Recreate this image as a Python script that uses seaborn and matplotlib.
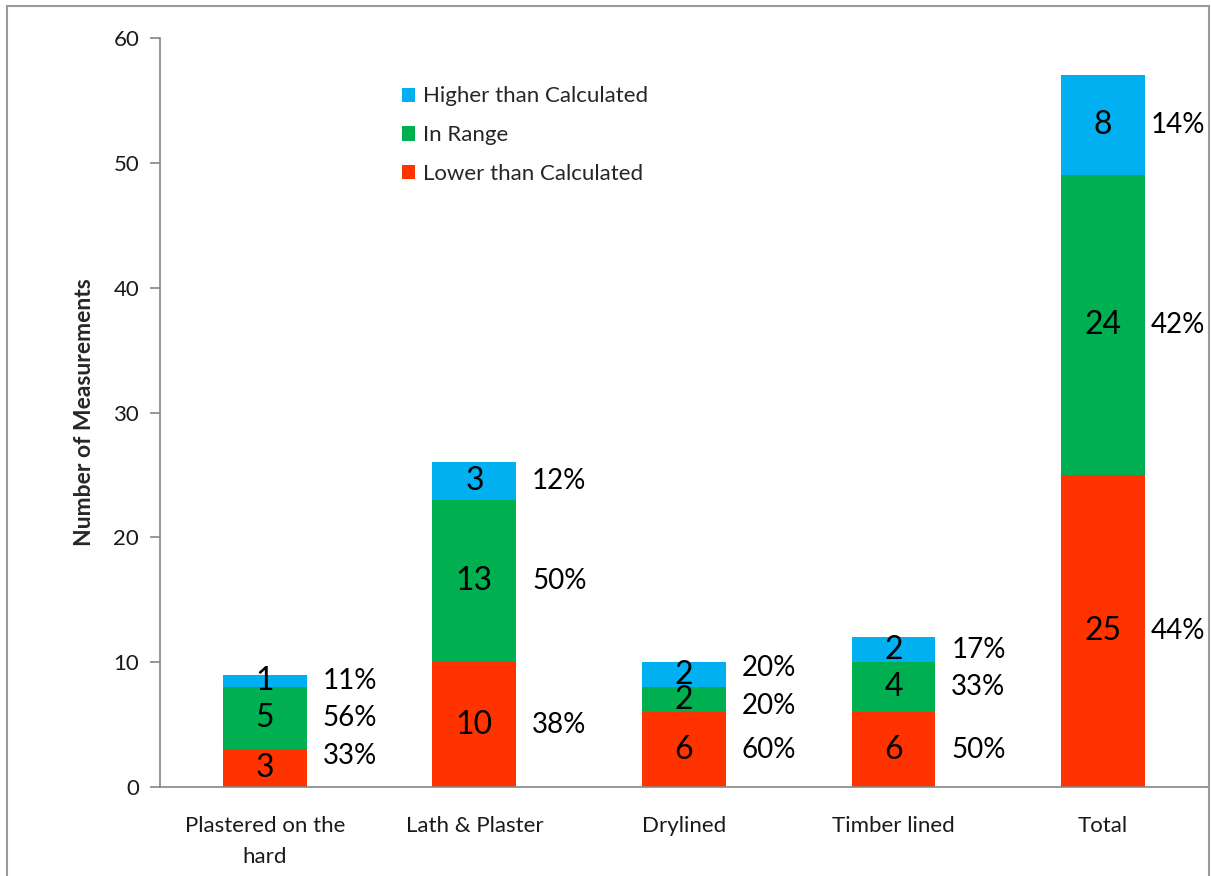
import numpy as np
import pandas as pd
import seaborn as sns
import matplotlib
matplotlib.use("Agg")
import matplotlib.pyplot as plt
from matplotlib.patches import Rectangle

# Measurement counts by wall construction type
categories = ["Plastered on the\nhard", "Lath & Plaster", "Drylined", "Timber lined", "Total"]
lower = [3, 10, 6, 6, 25]
in_range = [5, 13, 2, 4, 24]
higher = [1, 3, 2, 2, 8]
y_ticks = [0, 10, 20, 30, 40, 50, 60]

colors = {"Lower than Calculated": "#FF3300",
          "In Range": "#00B050",
          "Higher than Calculated": "#00B0F0"}

sns.set_theme(style="white")
plt.rcParams["font.family"] = ["Lato", "DejaVu Sans"]

df = pd.DataFrame({"category": categories, "lower": lower,
                   "in_range": in_range, "higher": higher})
df["top_in_range"] = df["lower"] + df["in_range"]
df["total"] = df["top_in_range"] + df["higher"]

fig = plt.figure(figsize=(12.11, 8.76), dpi=100)
ax = fig.add_axes([0.1321, 0.1016, 0.8654, 0.855])

# Stacked bars drawn as overlapping cumulative layers
bar_w = 0.4
sns.barplot(data=df, x="category", y="total", color=colors["Higher than Calculated"],
            width=bar_w, saturation=1, ax=ax, label="Higher than Calculated")
sns.barplot(data=df, x="category", y="top_in_range", color=colors["In Range"],
            width=bar_w, saturation=1, ax=ax, label="In Range")
sns.barplot(data=df, x="category", y="lower", color=colors["Lower than Calculated"],
            width=bar_w, saturation=1, ax=ax, label="Lower than Calculated")
for p in ax.patches:
    p.set_edgecolor("none")

ax.set_xlim(-0.5, len(categories) - 0.5)
ax.set_ylim(0, 60)
ax.set_yticks(y_ticks)

# Value labels inside segments and percentage labels beside each bar
pct_texts = []
for i, row in df.iterrows():
    segs = [row["lower"], row["in_range"], row["higher"]]
    bottoms = np.concatenate([[0], np.cumsum(segs)[:-1]])
    centers = bottoms + np.array(segs) / 2
    for v, c in zip(segs, centers):
        ax.text(i, c, f"{v}", ha="center", va="center", fontsize=23, color="black")
    # spread percentage labels so they keep a minimum vertical gap
    pos = list(np.maximum(centers, 2.5))
    gap = 3.0
    for _ in range(10):
        for k in range(1, len(pos)):
            if pos[k] - pos[k - 1] < gap:
                mid = (pos[k] + pos[k - 1]) / 2
                pos[k - 1] = mid - gap / 2
                pos[k] = mid + gap / 2
        pos[0] = max(pos[0], 2.5)
    total = row["total"]
    for v, yp in zip(segs, pos):
        t = ax.text(i + bar_w / 2 + 0.075, yp, f"{round(v / total * 100):.0f}%",
                    ha="left", va="center", fontsize=20, color="black")
        pct_texts.append(t)

# Axis styling
for side in ["top", "right"]:
    ax.spines[side].set_visible(False)
for side in ["left", "bottom"]:
    ax.spines[side].set_color("#868686")
    ax.spines[side].set_linewidth(1.2)

ax.set_xticks(range(len(categories)))
ax.set_xticklabels(categories, fontsize=16, linespacing=1.7, color="#1a1a1a")
ax.set_xticks(np.arange(-0.5, len(categories)), minor=True)
ax.tick_params(axis="x", which="major", length=0, pad=21)
ax.tick_params(axis="x", which="minor", length=8, width=1.2, color="#868686", direction="out")
ax.tick_params(axis="y", length=7, width=1.2, color="#868686", direction="out",
               labelsize=16, pad=8, left=True, labelcolor="#1a1a1a")
ax.set_xlabel("")
ax.set_ylabel("Number of Measurements", fontsize=16.5, fontweight="bold")
ax.yaxis.set_label_coords(-0.062, 0.5)

handles, labels = ax.get_legend_handles_labels()
leg = ax.legend(handles, labels, loc="upper left", bbox_to_anchor=(0.212, 0.962),
                frameon=False, fontsize=16, handlelength=0.6, handleheight=0.6,
                handletextpad=0.35, labelspacing=0.85)

# Keep percentage labels inside the figure
fig.canvas.draw()
renderer = fig.canvas.get_renderer()
limit = fig.bbox.x1 - 6
for t in pct_texts:
    bb = t.get_window_extent(renderer)
    if bb.x1 > limit:
        x_disp, y_disp = ax.transData.transform(t.get_position())
        new_x = ax.transData.inverted().transform((x_disp - (bb.x1 - limit), y_disp))[0]
        t.set_x(new_x)

# Outer chart border (bottom edge runs past the canvas)
fig.patches.append(Rectangle((0.0058, -0.05), 0.9925, 1.043, transform=fig.transFigure,
                             fill=False, edgecolor="#9a9a9a", linewidth=1.5))

fig.savefig("out.png", dpi=100, facecolor="white")
